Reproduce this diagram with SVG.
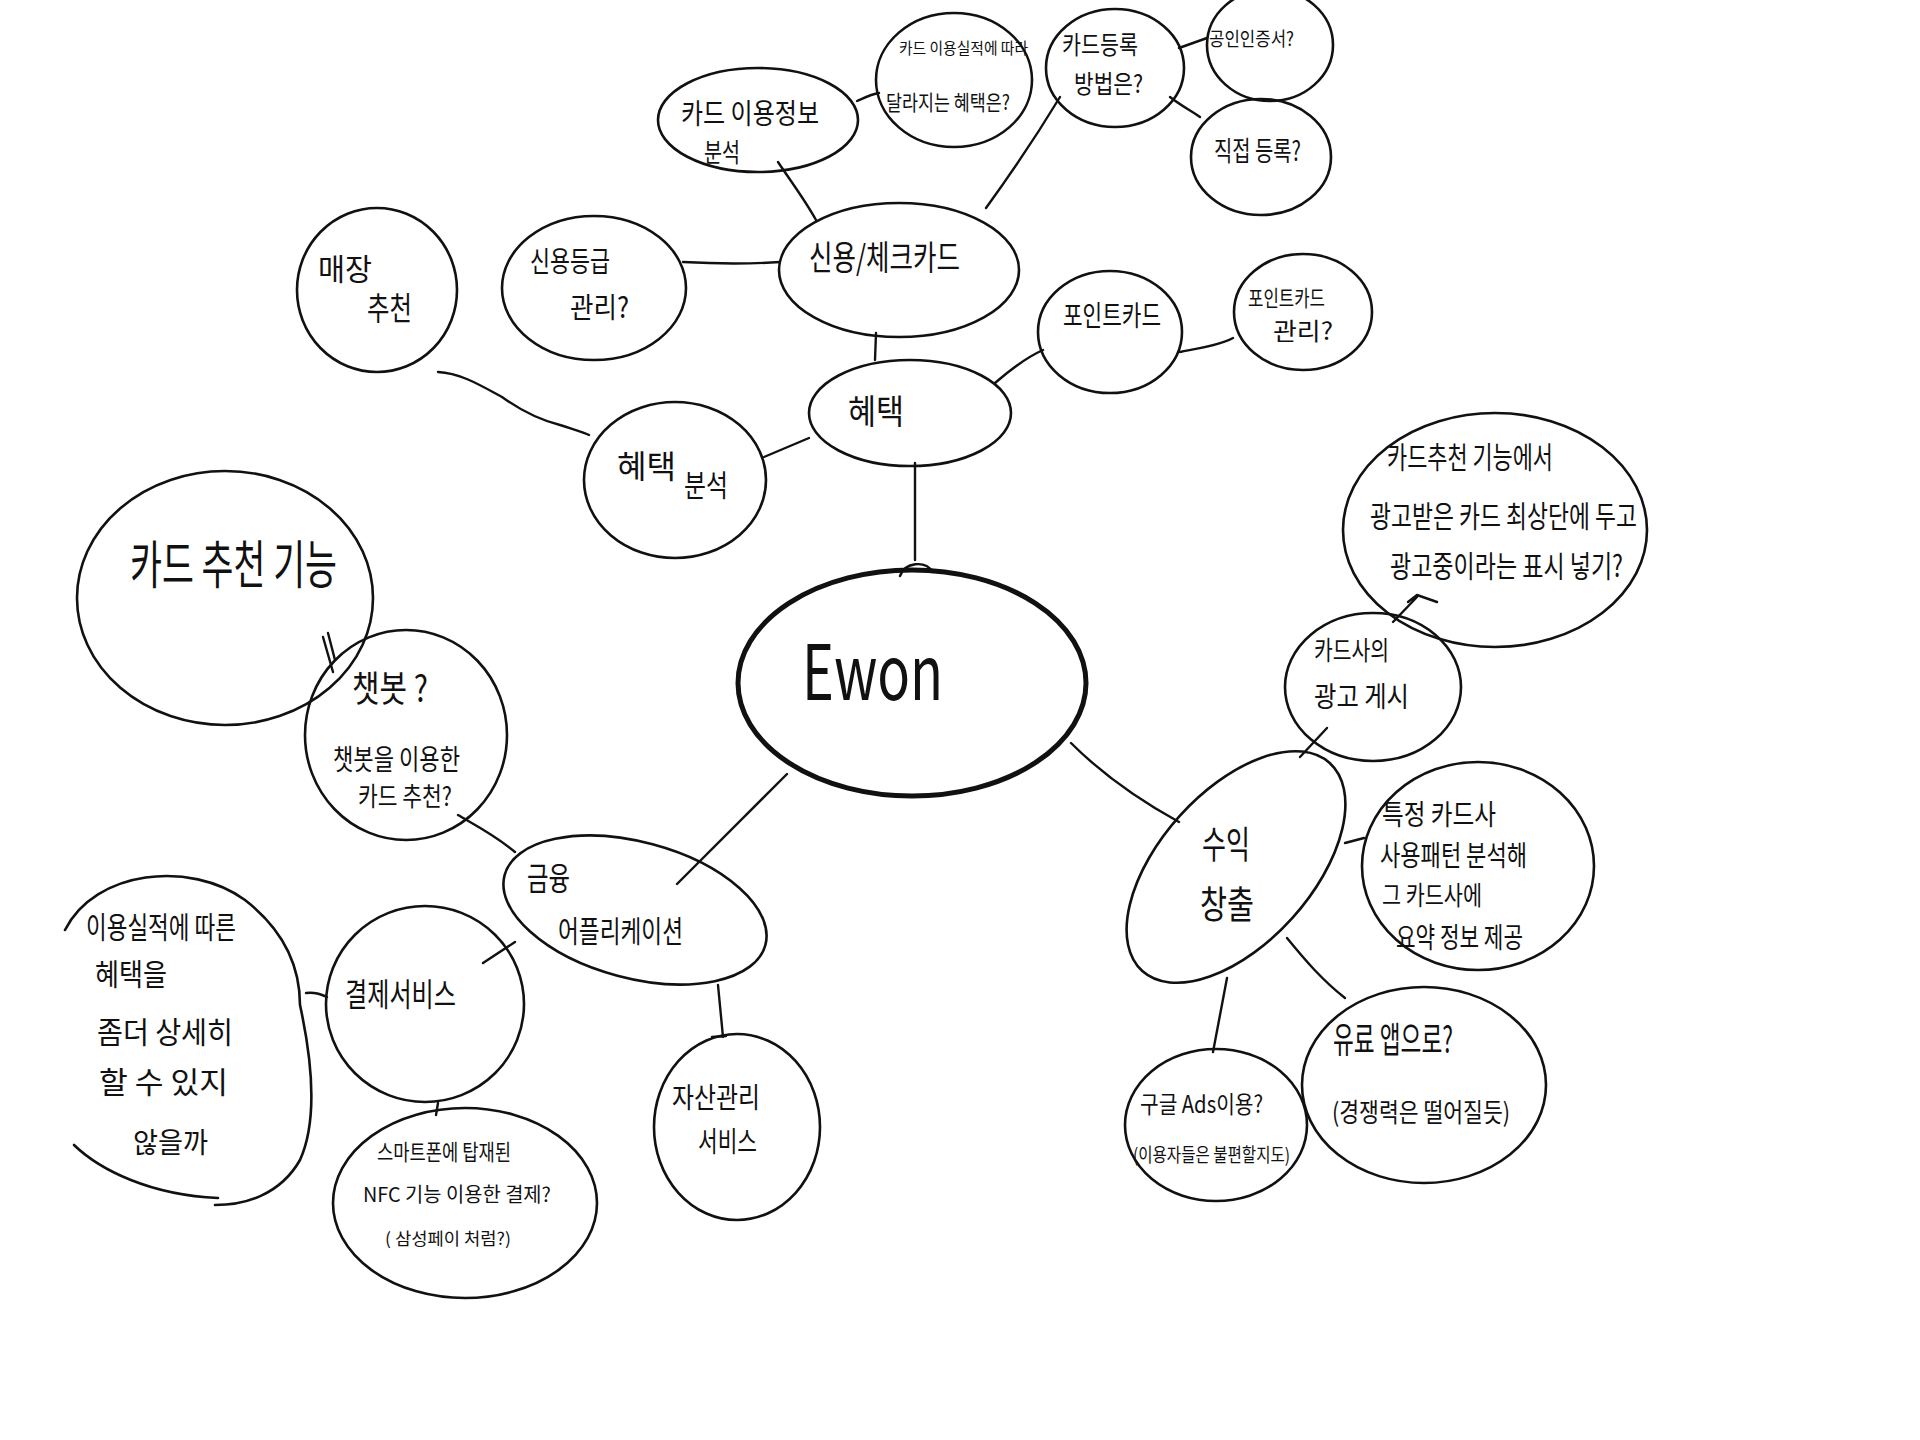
<svg xmlns="http://www.w3.org/2000/svg" width="1920" height="1440" viewBox="0 0 1920 1440">
<style>
.n{fill:none;stroke:#111;stroke-width:2.6;stroke-linecap:round}
.c{fill:none;stroke:#111;stroke-width:2.4;stroke-linecap:round;stroke-linejoin:round}
text{font-family:"Noto Sans CJK KR","Noto Sans",sans-serif;fill:#111}
</style>
<rect width="1920" height="1440" fill="#fff"/>
<g id="connectors">
<path class="c" d="M915,463 L915,560"/>
<path class="c" d="M900,576 C905,562 925,560 933,572"/>
<path class="c" d="M876,333 L875,360"/>
<path class="c" d="M778,162 C790,180 805,200 816,220"/>
<path class="c" d="M857,101 C866,97 872,94 879,93"/>
<path class="c" d="M986,208 C1010,175 1040,130 1060,97"/>
<path class="c" d="M1179,48 L1207,38"/>
<path class="c" d="M1170,97 C1180,105 1190,110 1200,117"/>
<path class="c" d="M683,262 C720,264 750,264 780,262"/>
<path class="c" d="M438,372 C460,373 480,385 502,397 C520,410 540,420 560,425 C575,430 585,433 589,435"/>
<path class="c" d="M764,457 L809,438"/>
<path class="c" d="M995,383 C1010,370 1025,358 1043,350"/>
<path class="c" d="M1180,352 C1200,348 1220,345 1233,338"/>
<path class="c" d="M323,637 L333,672 M328,633 L335,660"/>
<path class="c" d="M458,815 C475,825 495,835 515,852"/>
<path class="c" d="M787,774 L677,884"/>
<path class="c" d="M515,942 L483,963"/>
<path class="c" d="M718,985 L723,1037 M712,1037 L726,1036"/>
<path class="c" d="M306,993 C315,992 320,994 327,997"/>
<path class="c" d="M438,1103 L436,1115"/>
<path class="c" d="M1071,743 C1100,772 1139,800 1179,822"/>
<path class="c" d="M1300,757 L1327,728"/>
<path class="c" d="M1393,622 L1417,597 M1408,602 L1417,595 L1437,602"/>
<path class="c" d="M1345,843 L1364,838"/>
<path class="c" d="M1227,978 L1213,1052"/>
<path class="c" d="M1287,938 C1305,960 1322,980 1345,998"/>
</g>
<g id="ewon">
<ellipse class="n" cx="912" cy="683" rx="174" ry="113" style="stroke-width:5"/>
<text x="802" y="700" font-size="76" textLength="141" lengthAdjust="spacingAndGlyphs">Ewon</text>
</g>
<g id="hyetaek">
<ellipse class="n" cx="910" cy="413" rx="101" ry="53"/>
<text x="848" y="424" font-size="34" textLength="56" lengthAdjust="spacingAndGlyphs">혜택</text>
</g>
<g id="credit-card">
<ellipse class="n" cx="899" cy="270" rx="120" ry="67"/>
<text x="809" y="270" font-size="34" textLength="151" lengthAdjust="spacingAndGlyphs">신용/체크카드</text>
</g>
<g id="card-usage">
<ellipse class="n" cx="758" cy="120" rx="100" ry="52"/>
<text x="681" y="124" font-size="28" textLength="138" lengthAdjust="spacingAndGlyphs">카드 이용정보</text>
<text x="704" y="162" font-size="26" textLength="36" lengthAdjust="spacingAndGlyphs">분석</text>
</g>
<g id="usage-benefit">
<ellipse class="n" cx="954" cy="80" rx="78" ry="67"/>
<text x="899" y="54" font-size="16" textLength="129" lengthAdjust="spacingAndGlyphs">카드 이용실적에 따라</text>
<text x="886" y="110" font-size="21" textLength="124" lengthAdjust="spacingAndGlyphs">달라지는 혜택은?</text>
</g>
<g id="card-register">
<ellipse class="n" cx="1115" cy="68" rx="69" ry="59"/>
<text x="1062" y="54" font-size="25" textLength="76" lengthAdjust="spacingAndGlyphs">카드등록</text>
<text x="1074" y="93" font-size="25" textLength="69" lengthAdjust="spacingAndGlyphs">방법은?</text>
</g>
<g id="cert">
<ellipse class="n" cx="1270" cy="45" rx="63" ry="56"/>
<text x="1209" y="46" font-size="19" textLength="85" lengthAdjust="spacingAndGlyphs">공인인증서?</text>
</g>
<g id="direct">
<ellipse class="n" cx="1261" cy="157" rx="70" ry="58"/>
<text x="1214" y="161" font-size="27" textLength="87" lengthAdjust="spacingAndGlyphs">직접 등록?</text>
</g>
<g id="credit-grade">
<ellipse class="n" cx="594" cy="288" rx="92" ry="72"/>
<text x="530" y="272" font-size="28" textLength="80" lengthAdjust="spacingAndGlyphs">신용등급</text>
<text x="570" y="318" font-size="28" textLength="59" lengthAdjust="spacingAndGlyphs">관리?</text>
</g>
<g id="store">
<ellipse class="n" cx="377" cy="290" rx="80" ry="82"/>
<text x="318" y="280" font-size="30" textLength="54" lengthAdjust="spacingAndGlyphs">매장</text>
<text x="367" y="320" font-size="32" textLength="45" lengthAdjust="spacingAndGlyphs">추천</text>
</g>
<g id="benefit-analysis">
<ellipse class="n" cx="675" cy="480" rx="91" ry="78"/>
<text x="617" y="478" font-size="32" textLength="59" lengthAdjust="spacingAndGlyphs">혜택</text>
<text x="684" y="496" font-size="30" textLength="44" lengthAdjust="spacingAndGlyphs">분석</text>
</g>
<g id="point-card">
<ellipse class="n" cx="1110" cy="332" rx="72" ry="61"/>
<text x="1063" y="326" font-size="28" textLength="98" lengthAdjust="spacingAndGlyphs">포인트카드</text>
</g>
<g id="point-manage">
<ellipse class="n" cx="1303" cy="312" rx="69" ry="58"/>
<text x="1248" y="306" font-size="22" textLength="77" lengthAdjust="spacingAndGlyphs">포인트카드</text>
<text x="1273" y="340" font-size="24" textLength="60" lengthAdjust="spacingAndGlyphs">관리?</text>
</g>
<g id="card-recommend">
<ellipse class="n" cx="225" cy="598" rx="148" ry="127"/>
<text x="130" y="584" font-size="52" textLength="207" lengthAdjust="spacingAndGlyphs">카드 추천 기능</text>
</g>
<g id="chatbot">
<ellipse class="n" cx="406" cy="735" rx="101" ry="105"/>
<text x="352" y="702" font-size="36" textLength="76" lengthAdjust="spacingAndGlyphs">챗봇 ?</text>
<text x="333" y="770" font-size="28" textLength="127" lengthAdjust="spacingAndGlyphs">챗봇을 이용한</text>
<text x="358" y="806" font-size="26" textLength="94" lengthAdjust="spacingAndGlyphs">카드 추천?</text>
</g>
<g id="finance-app">
<ellipse class="n" cx="635" cy="910" rx="135" ry="68" transform="rotate(15 635 910)"/>
<text x="527" y="890" font-size="32" textLength="43" lengthAdjust="spacingAndGlyphs">금융</text>
<text x="558" y="942" font-size="30" textLength="125" lengthAdjust="spacingAndGlyphs">어플리케이션</text>
</g>
<g id="payment">
<ellipse class="n" cx="425" cy="1004" rx="99" ry="98"/>
<text x="345" y="1006" font-size="32" textLength="111" lengthAdjust="spacingAndGlyphs">결제서비스</text>
</g>
<g id="detail-benefit">
<path class="n" d="M65,930 C95,870 190,860 245,900 C290,935 300,975 300,1005 C312,1060 318,1120 300,1160 C280,1195 245,1205 215,1205"/>
<path class="n" d="M74,1145 C100,1170 150,1195 218,1198"/>
<text x="86" y="938" font-size="30" textLength="150" lengthAdjust="spacingAndGlyphs">이용실적에 따른</text>
<text x="95" y="985" font-size="30" textLength="72" lengthAdjust="spacingAndGlyphs">혜택을</text>
<text x="97" y="1043" font-size="30" textLength="136" lengthAdjust="spacingAndGlyphs">좀더 상세히</text>
<text x="99" y="1093" font-size="30" textLength="129" lengthAdjust="spacingAndGlyphs">할 수 있지</text>
<text x="133" y="1153" font-size="28" textLength="75" lengthAdjust="spacingAndGlyphs">않을까</text>
</g>
<g id="nfc">
<ellipse class="n" cx="465" cy="1203" rx="132" ry="95"/>
<text x="377" y="1160" font-size="22" textLength="134" lengthAdjust="spacingAndGlyphs">스마트폰에 탑재된</text>
<text x="363" y="1202" font-size="20" textLength="188" lengthAdjust="spacingAndGlyphs">NFC 기능 이용한 결제?</text>
<text x="385" y="1245" font-size="17" textLength="126" lengthAdjust="spacingAndGlyphs">( 삼성페이 처럼?)</text>
</g>
<g id="asset">
<ellipse class="n" cx="737" cy="1127" rx="83" ry="93"/>
<text x="672" y="1108" font-size="28" textLength="88" lengthAdjust="spacingAndGlyphs">자산관리</text>
<text x="698" y="1152" font-size="28" textLength="59" lengthAdjust="spacingAndGlyphs">서비스</text>
</g>
<g id="ad-top">
<ellipse class="n" cx="1495" cy="530" rx="152" ry="117"/>
<text x="1387" y="468" font-size="30" textLength="166" lengthAdjust="spacingAndGlyphs">카드추천 기능에서</text>
<text x="1370" y="527" font-size="30" textLength="267" lengthAdjust="spacingAndGlyphs">광고받은 카드 최상단에 두고</text>
<text x="1390" y="577" font-size="30" textLength="233" lengthAdjust="spacingAndGlyphs">광고중이라는 표시 넣기?</text>
</g>
<g id="card-ad">
<ellipse class="n" cx="1373" cy="687" rx="88" ry="74"/>
<text x="1314" y="660" font-size="26" textLength="75" lengthAdjust="spacingAndGlyphs">카드사의</text>
<text x="1314" y="707" font-size="28" textLength="95" lengthAdjust="spacingAndGlyphs">광고 게시</text>
</g>
<g id="revenue">
<ellipse class="n" cx="1236" cy="867" rx="140" ry="76" transform="rotate(-48 1236 867)"/>
<text x="1202" y="858" font-size="38" textLength="48" lengthAdjust="spacingAndGlyphs">수익</text>
<text x="1200" y="918" font-size="38" textLength="54" lengthAdjust="spacingAndGlyphs">창출</text>
</g>
<g id="pattern">
<ellipse class="n" cx="1478" cy="866" rx="116" ry="104"/>
<text x="1382" y="825" font-size="28" textLength="114" lengthAdjust="spacingAndGlyphs">특정 카드사</text>
<text x="1380" y="866" font-size="28" textLength="147" lengthAdjust="spacingAndGlyphs">사용패턴 분석해</text>
<text x="1382" y="905" font-size="26" textLength="100" lengthAdjust="spacingAndGlyphs">그 카드사에</text>
<text x="1396" y="948" font-size="28" textLength="127" lengthAdjust="spacingAndGlyphs">요약 정보 제공</text>
</g>
<g id="google-ads">
<ellipse class="n" cx="1216" cy="1125" rx="91" ry="76"/>
<text x="1140" y="1113" font-size="24" textLength="123" lengthAdjust="spacingAndGlyphs">구글 Ads이용?</text>
<text x="1133" y="1162" font-size="19" textLength="157" lengthAdjust="spacingAndGlyphs">(이용자들은 불편할지도)</text>
</g>
<g id="paid-app">
<ellipse class="n" cx="1424" cy="1085" rx="122" ry="98"/>
<text x="1333" y="1053" font-size="36" textLength="120" lengthAdjust="spacingAndGlyphs">유료 앱으로?</text>
<text x="1332" y="1122" font-size="26" textLength="178" lengthAdjust="spacingAndGlyphs">(경쟁력은 떨어질듯)</text>
</g>
</svg>
